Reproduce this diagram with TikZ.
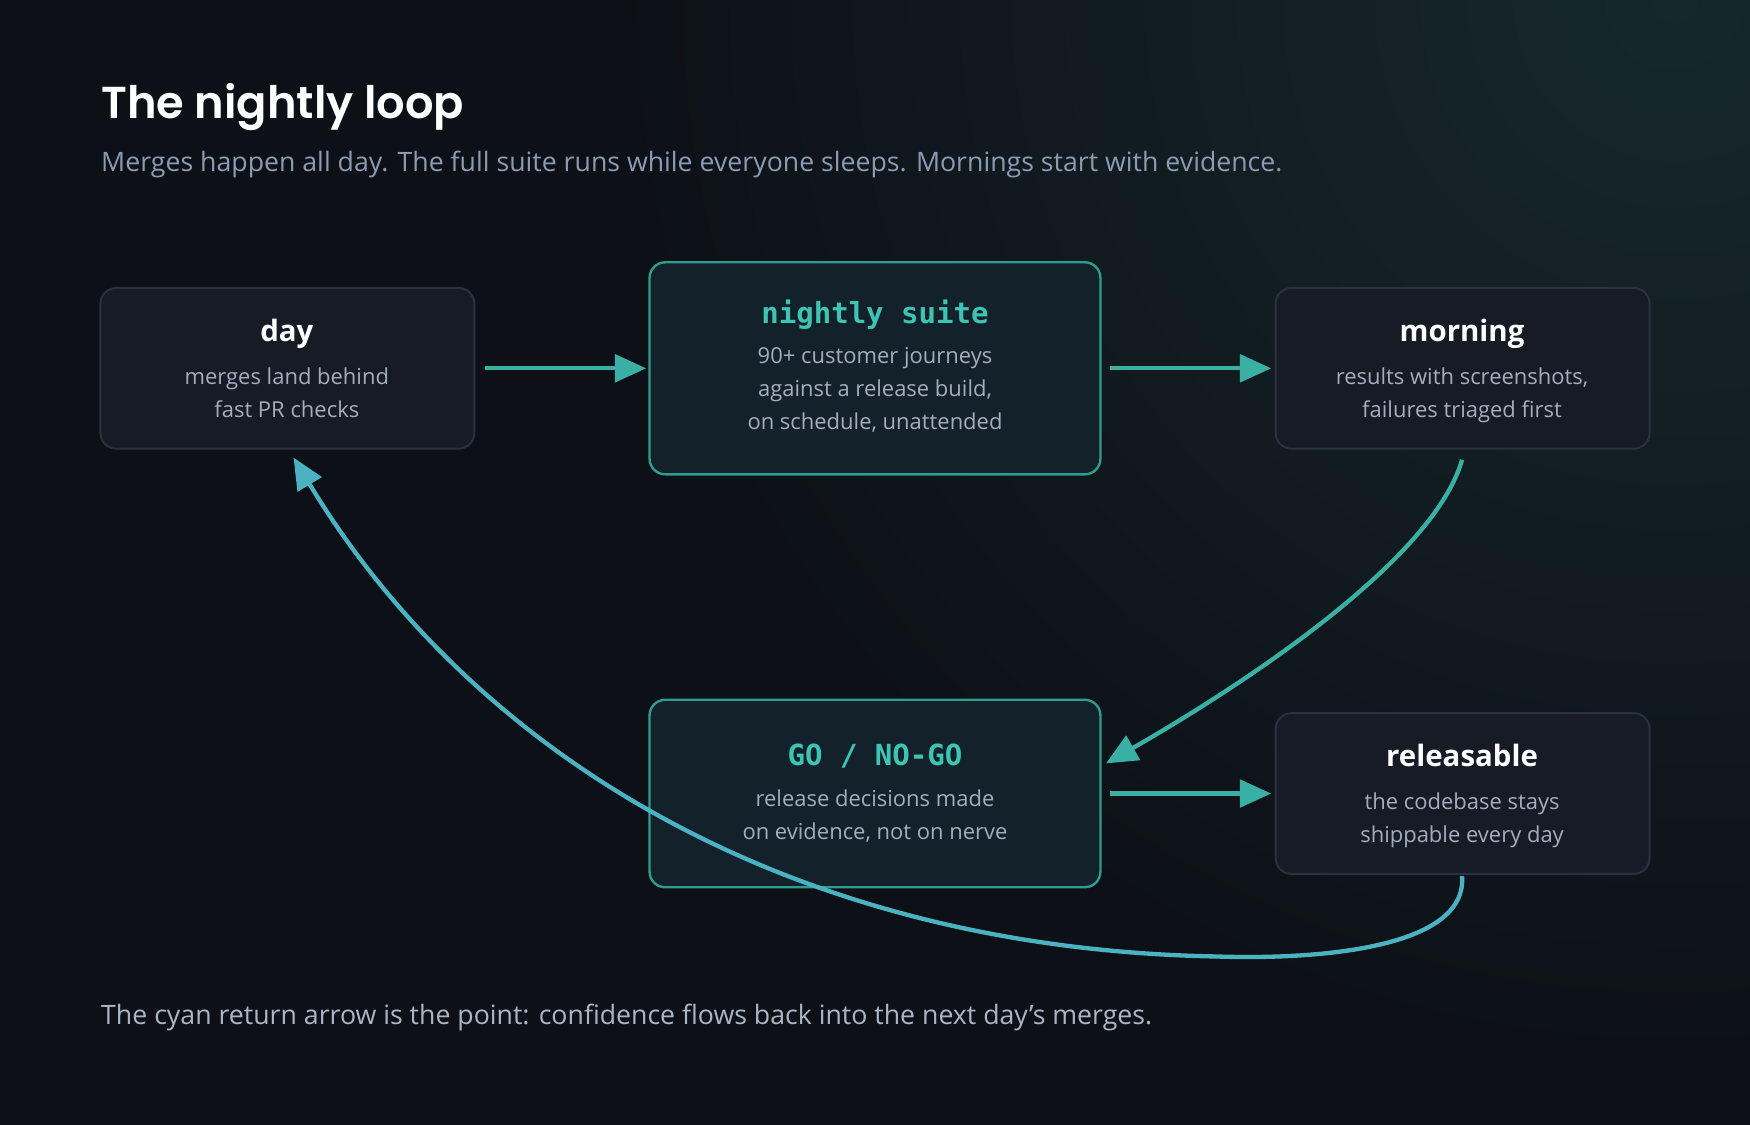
\documentclass[tikz,border=0pt]{standalone}
\usepackage{fontspec}
\setmainfont{Open Sans}
\newfontfamily\titlefont{Poppins}[UprightFont=* SemiBold]
\newfontfamily\monofont{DejaVu Sans Mono Bold}
\usetikzlibrary{arrows.meta}
\definecolor{bg}{HTML}{0D1117}
\definecolor{bgteal}{HTML}{16282B}
\definecolor{boxfill}{HTML}{161B26}
\definecolor{boxline}{HTML}{2A3140}
\definecolor{hifill}{HTML}{13222A}
\definecolor{hiline}{HTML}{2E9C8F}
\definecolor{teal}{HTML}{3DC4B3}
\definecolor{arrowteal}{HTML}{3AB0A4}
\definecolor{cyanar}{HTML}{4BB2C2}
\definecolor{sub}{HTML}{8A9BB3}
\definecolor{body}{HTML}{A3ADBD}
\tikzset{
  box/.style={draw=boxline, fill=boxfill, rounded corners=4pt, line width=0.5pt},
  hibox/.style={draw=hiline, fill=hifill, rounded corners=4pt, line width=0.6pt},
  ttl/.style={text=white, font=\fontsize{7.5}{9}\selectfont\bfseries, anchor=base},
  mono/.style={text=teal, font=\fontsize{7.4}{9}\monofont, anchor=base},
  txt/.style={text=body, font=\fontsize{5.6}{8.4}\selectfont, align=center, anchor=base},
  flow/.style={draw=arrowteal, line width=1.1pt, -{Triangle[length=8pt,width=7pt]}},
  ret/.style={draw=cyanar, line width=1.1pt, -{Triangle[length=8pt,width=7pt]}},
}
\begin{document}
\begin{tikzpicture}[x=0.01cm,y=-0.01cm]
\useasboundingbox (0,0) rectangle (1568,1008);
\fill[bg] (0,0) rectangle (1568,1008);
\begin{scope}
\clip (0,0) rectangle (1568,1008);
\shade[inner color=bgteal, outer color=bg] (1500,0) circle (950);
\end{scope}
\node[anchor=base west, text=white, font=\fontsize{11.4}{14}\titlefont, inner sep=0] (title) at (90,106) {The nightly loop};
\node[anchor=base west, text=sub, font=\fontsize{6.8}{8}\selectfont, inner sep=0] (subtitle) at (90,154) {Merges happen all day. The full suite runs while everyone sleeps. Mornings start with evidence.};
\node[anchor=base west, text=body!90!white, font=\fontsize{6.8}{8}\selectfont, inner sep=0] (footer) at (90,918) {The cyan return arrow is the point: confidence flows back into the next day's merges.};

% boxes
\draw[box] (90,258) rectangle (425,402);
\draw[hibox] (582,235) rectangle (986,425);
\draw[box] (1143,258) rectangle (1478,402);
\draw[hibox] (582,627) rectangle (986,795);
\draw[box] (1143,639) rectangle (1478,783);

\node[ttl] (dayt) at (257,306) {day};
\node[txt] (dayb) at (257,374) {merges land behind\\fast PR checks};
\node[mono] (nst) at (784,290) {nightly suite};
\node[txt] (nsb) at (784,385) {90+ customer journeys\\against a release build,\\on schedule, unattended};
\node[ttl] (mt) at (1310,306) {morning};
\node[txt] (mb) at (1310,374) {results with screenshots,\\failures triaged first};
\node[mono] (gt) at (784,686) {GO / NO-GO};
\node[txt] (gb) at (784,752) {release decisions made\\on evidence, not on nerve};
\node[ttl] (rt) at (1310,687) {releasable};
\node[txt] (rb) at (1310,755) {the codebase stays\\shippable every day};

\coordinate (a1s) at (435,330); \coordinate (a1e) at (579,330);
\coordinate (a2s) at (995,330); \coordinate (a2e) at (1139,330);
\coordinate (a3s) at (995,711); \coordinate (a3e) at (1139,711);
\coordinate (ms) at (1310,412); \coordinate (me) at (991,684);
\coordinate (rs) at (1310,785); \coordinate (rm) at (1090,857); \coordinate (re) at (263,410);
\draw[flow] (a1s) -- (a1e);
\draw[flow] (a2s) -- (a2e);
\draw[flow] (a3s) -- (a3e);
\draw[flow] (ms) .. controls (1285,500) and (1120,610) .. (me);
\draw[ret] (rs) .. controls (1315,850) and (1180,860) .. (rm) .. controls (700,850) and (420,670) .. (re);
\end{tikzpicture}
\end{document}
